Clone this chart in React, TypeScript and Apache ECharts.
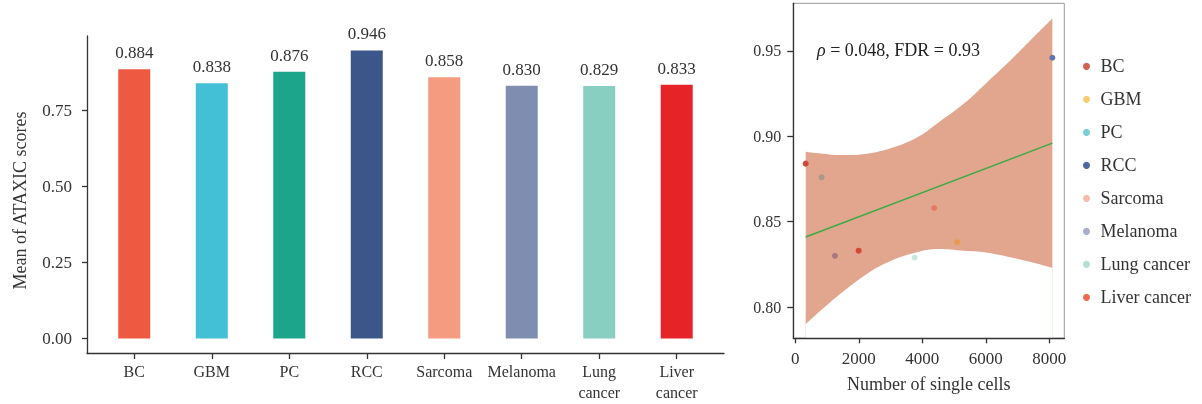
import React, { useEffect, useRef } from "react";
import * as echarts from "echarts";

const categories = ["BC", "GBM", "PC", "RCC", "Sarcoma", "Melanoma", "Lung cancer", "Liver cancer"];
const meanScores = [0.884, 0.838, 0.876, 0.946, 0.858, 0.83, 0.829, 0.833];
const barColors = ["#EE5A41", "#43BFD6", "#1CA58B", "#3B5688", "#F49B80", "#7E8DB0", "#88CFC2", "#E62428"];
const barYTicks = [0, 0.25, 0.5, 0.75];

const cellCounts = [327, 5094, 830, 8094, 4371, 1248, 3755, 1994];
const pointColors = ["#CF4A3A", "#E89A50", "#A8998A", "#6272B0", "#E47A64", "#A87880", "#C8E8E0", "#D84634"];
const legendColors = ["#D06350", "#F8CE75", "#7ACFD6", "#5167A0", "#F9BCA9", "#A7AECD", "#B3E0D6", "#EC6E52"];

const bandX = [327, 800, 1500, 2300, 3000, 3800, 4500, 5300, 6000, 6800, 7500, 8094];
const bandUpper = [0.891, 0.89, 0.889, 0.89, 0.893, 0.899, 0.908, 0.919, 0.931, 0.945, 0.958, 0.969];
const bandLower = [0.79, 0.798, 0.809, 0.82, 0.827, 0.832, 0.834, 0.833, 0.832, 0.829, 0.826, 0.823];
const fitX = [327, 8094];
const fitY = [0.841, 0.896];

const scatterXTicks = [0, 2000, 4000, 6000, 8000];
const scatterYTicks = [0.8, 0.85, 0.9, 0.95];
const rhoText = "0.048";
const fdrText = "0.93";

const FONT = "'Liberation Serif', 'DejaVu Serif', serif";
const TXT = "#333";

export default function App() {
  const ref = useRef<HTMLDivElement>(null);
  useEffect(() => {
    if (!ref.current) return;
    const chart = echarts.init(ref.current, null, { renderer: "svg" });
    const axisLineStyle = { color: "#333", width: 1.3 };
    const lbl = (size: number) => ({ fontFamily: FONT, fontSize: size, color: TXT });

    const option: any = {
      animation: false,
      textStyle: { fontFamily: FONT },
      grid: [
        { left: 87, top: 36, width: 637, height: 317 },
        { left: 793.3, top: 3.3, width: 271, height: 335, show: true, borderColor: "#999", borderWidth: 1 },
      ],
      xAxis: [
        {
          gridIndex: 0,
          type: "value",
          min: -0.61,
          max: 7.61,
          splitLine: { show: false },
          axisLine: { show: true, onZero: false, lineStyle: axisLineStyle },
          axisTick: { show: true, length: 6, customValues: categories.map((_, i) => i), lineStyle: axisLineStyle },
          axisLabel: {
            ...lbl(16),
            margin: 8,
            lineHeight: 21,
            customValues: categories.map((_, i) => i),
            formatter: (v: number) => (categories[Math.round(v)] || "").replace(" ", "\n"),
          },
        },
        {
          gridIndex: 1,
          type: "value",
          min: -63,
          max: 8470,
          z: 10,
          splitLine: { show: false },
          axisLine: { show: true, onZero: false, lineStyle: axisLineStyle },
          axisTick: { show: true, length: 5, customValues: scatterXTicks, lineStyle: axisLineStyle },
          axisLabel: { ...lbl(17), margin: 12, customValues: scatterXTicks, formatter: (v: number) => String(v) },
          name: "Number of single cells",
          nameLocation: "middle",
          nameGap: 37,
          nameTextStyle: lbl(18),
        },
      ],
      yAxis: [
        {
          gridIndex: 0,
          type: "value",
          min: -0.0473,
          max: 0.9933,
          splitLine: { show: false },
          axisLine: { show: true, onZero: false, lineStyle: axisLineStyle },
          axisTick: { show: true, length: 5, customValues: barYTicks, lineStyle: axisLineStyle },
          axisLabel: { ...lbl(17), margin: 15, customValues: barYTicks, formatter: (v: number) => v.toFixed(2) },
          name: "Mean of ATAXIC scores",
          nameLocation: "middle",
          nameGap: 58,
          nameTextStyle: { ...lbl(18), padding: [0, 12, 0, 0] },
        },
        {
          gridIndex: 1,
          type: "value",
          min: 0.7817,
          max: 0.9779,
          z: 10,
          splitLine: { show: false },
          axisLine: { show: true, onZero: false, lineStyle: axisLineStyle },
          axisTick: { show: true, length: 6, customValues: scatterYTicks, lineStyle: axisLineStyle },
          axisLabel: { ...lbl(16), margin: 12, customValues: scatterYTicks, formatter: (v: number) => v.toFixed(2) },
        },
      ],
      legend: {
        orient: "vertical",
        left: 1078,
        top: 52.4,
        icon: "circle",
        itemWidth: 18,
        itemHeight: 7,
        itemGap: 15,
        textStyle: { fontFamily: FONT, fontSize: 18, color: TXT, lineHeight: 16 },
        data: categories.map((c, i) => ({ name: c, itemStyle: { color: legendColors[i] } })),
      },
      graphic: [
        {
          type: "text",
          x: 817,
          y: 50,
          z: 100,
          style: {
            text: `{i|ρ} = ${rhoText}, FDR = ${fdrText}`,
            fontFamily: FONT,
            fontSize: 18,
            fill: "#222",
            verticalAlign: "middle",
            rich: { i: { fontStyle: "italic", fontFamily: FONT, fontSize: 18, fill: "#222" } },
          },
        },
      ],
      series: [
        {
          type: "bar",
          xAxisIndex: 0,
          yAxisIndex: 0,
          barWidth: 32,
          data: meanScores.map((v, i) => ({ value: [i, v], itemStyle: { color: barColors[i] } })),
          label: {
            show: true,
            position: "top",
            distance: 8,
            ...lbl(17),
            formatter: (p: any) => p.value[1].toFixed(3),
          },
        },
        {
          type: "line",
          xAxisIndex: 1,
          yAxisIndex: 1,
          smooth: 0.4,
          symbol: "none",
          z: 2,
          lineStyle: { width: 0, opacity: 0 },
          areaStyle: { color: "#E2A68F", opacity: 1, origin: "start" },
          data: bandX.map((x, i) => [x, bandUpper[i]]),
          silent: true,
        },
        {
          type: "line",
          xAxisIndex: 1,
          yAxisIndex: 1,
          smooth: 0.4,
          symbol: "none",
          z: 3,
          lineStyle: { width: 0, opacity: 0 },
          areaStyle: { color: "#FFFFFF", opacity: 1, origin: "start" },
          data: bandX.map((x, i) => [x, bandLower[i]]),
          silent: true,
        },
        {
          type: "line",
          xAxisIndex: 1,
          yAxisIndex: 1,
          symbol: "none",
          z: 4,
          lineStyle: { color: "#3DAA45", width: 1.5 },
          data: fitX.map((x, i) => [x, fitY[i]]),
        },
        ...categories.map((c, i) => ({
          type: "scatter",
          name: c,
          xAxisIndex: 1,
          yAxisIndex: 1,
          symbolSize: 6,
          itemStyle: { color: pointColors[i], opacity: 1 },
          data: [[cellCounts[i], meanScores[i]]],
          z: 5,
        })),
      ],
    };
    chart.setOption(option);
    return () => chart.dispose();
  }, []);
  return <div ref={ref} style={{ position: "fixed", left: 0, top: 0, width: 1202, height: 404 }} />;
}
